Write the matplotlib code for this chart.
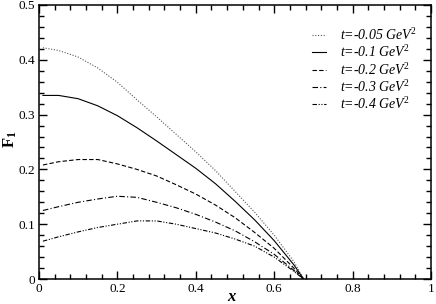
import numpy as np
import matplotlib
matplotlib.use("Agg")
import matplotlib.pyplot as plt
from matplotlib.ticker import MultipleLocator, FuncFormatter

plt.rcParams['font.family'] = ['Liberation Serif', 'DejaVu Serif']
plt.rcParams['mathtext.fontset'] = 'custom'
plt.rcParams['mathtext.rm'] = 'Liberation Serif'
plt.rcParams['mathtext.it'] = 'Liberation Serif:italic'
plt.rcParams['mathtext.bf'] = 'Liberation Serif:bold'

# values
x = [0.01, 0.05, 0.10, 0.15, 0.20, 0.25, 0.30, 0.35, 0.40, 0.45, 0.50, 0.55, 0.60, 0.65, 0.675]
f_005 = [0.422, 0.417, 0.405, 0.385, 0.359, 0.327, 0.296, 0.264, 0.232, 0.198, 0.160, 0.122, 0.080, 0.032, 0.0]
f_01 = [0.335, 0.335, 0.329, 0.316, 0.298, 0.276, 0.252, 0.227, 0.202, 0.174, 0.142, 0.108, 0.070, 0.026, 0.0]
f_02 = [0.208, 0.214, 0.218, 0.218, 0.210, 0.200, 0.188, 0.172, 0.155, 0.135, 0.112, 0.085, 0.056, 0.020, 0.0]
f_03 = [0.125, 0.132, 0.140, 0.146, 0.151, 0.149, 0.140, 0.130, 0.118, 0.104, 0.088, 0.068, 0.045, 0.016, 0.0]
f_04 = [0.069, 0.077, 0.086, 0.094, 0.100, 0.106, 0.106, 0.100, 0.092, 0.084, 0.073, 0.060, 0.040, 0.014, 0.0]

labels = ['t=-0.05 GeV$^2$', 't=-0.1 GeV$^2$', 't=-0.2 GeV$^2$',
          't=-0.3 GeV$^2$', 't=-0.4 GeV$^2$']
styles = [(0, (1, 1.5)), '-', (0, (4, 2)), (0, (5, 2, 1, 2)), (0, (4, 1.5, 1, 1.5, 1, 1.5))]
colors = ['#555555', 'black', 'black', 'black', 'black']
series = [f_005, f_01, f_02, f_03, f_04]

fig = plt.figure(figsize=(4.36, 3.04), dpi=100)
ax = fig.add_axes([39 / 436, 25 / 304, 392 / 436, 274 / 304])

for ys, ls, c, lab in zip(series, styles, colors, labels):
    ax.plot(x, ys, color=c, linestyle=ls, linewidth=0.8, label=lab)

ax.set_xlim(0, 1)
ax.set_ylim(0, 0.5)
ax.xaxis.set_major_locator(MultipleLocator(0.2))
ax.xaxis.set_minor_locator(MultipleLocator(0.04))
ax.yaxis.set_major_locator(MultipleLocator(0.1))
ax.yaxis.set_minor_locator(MultipleLocator(0.02))
fmt = FuncFormatter(lambda v, p: '%g' % round(v, 3))
ax.xaxis.set_major_formatter(fmt)
ax.yaxis.set_major_formatter(fmt)
ax.tick_params(which='both', direction='in', top=True, right=True, labelsize=9.5, width=1.0)
ax.tick_params(which='major', length=6, pad=3)
ax.tick_params(which='minor', length=3.5)
for s in ax.spines.values():
    s.set_linewidth(1.1)

ax.set_xlabel('x', fontsize=12, fontweight='bold', fontstyle='italic')
ax.set_ylabel('F$_\\mathbf{1}$', fontsize=12, fontweight='bold')
ax.xaxis.set_label_coords(0.49, -0.036)
ax.yaxis.set_label_coords(-0.05, 0.51)

leg = ax.legend(loc='upper right', bbox_to_anchor=(0.995, 0.965), frameon=False,
                prop={'style': 'italic', 'size': 10}, handlelength=1.0,
                handletextpad=1.0, labelspacing=0.1)

fig.savefig('out.png', dpi=100)
